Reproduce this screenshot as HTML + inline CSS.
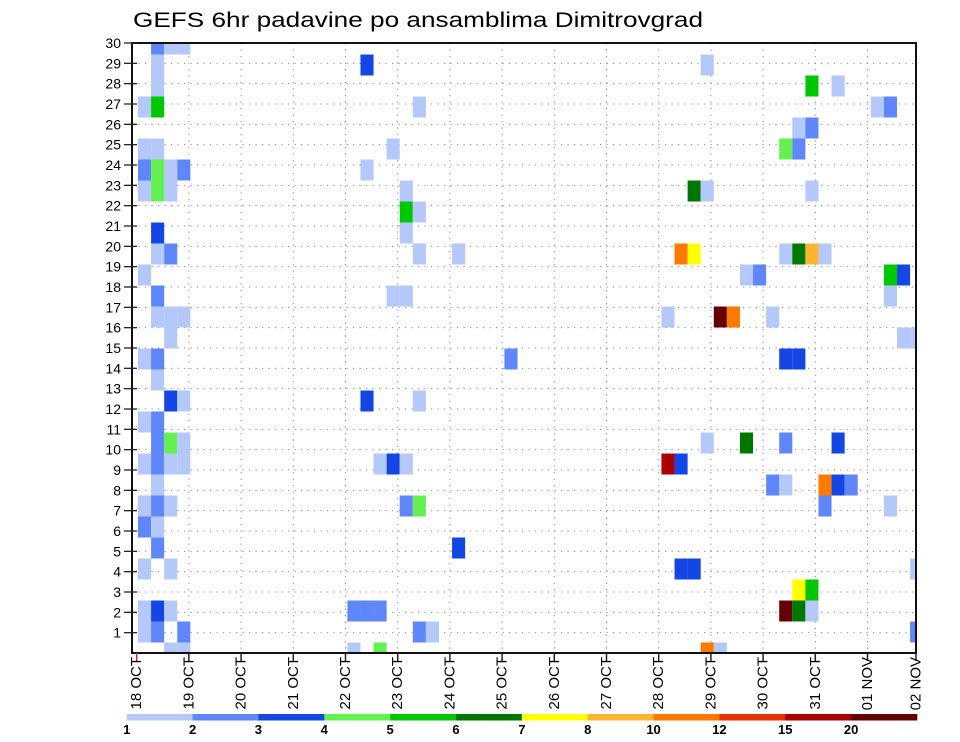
<!DOCTYPE html>
<html>
<head>
<meta charset="utf-8">
<style>
  html, body { margin: 0; padding: 0; background: #ffffff; }
  body { width: 960px; height: 742px; overflow: hidden; }
  svg { display: block; font-family: "Liberation Sans", "DejaVu Sans", sans-serif; }
</style>
</head>
<body>
<svg id="chart" width="960" height="742" viewBox="0 0 960 742" xmlns="http://www.w3.org/2000/svg">
  <rect x="0" y="0" width="960" height="742" fill="#ffffff"/>
  <text x="133" y="27" font-size="21" fill="#000" textLength="570" lengthAdjust="spacingAndGlyphs">GEFS 6hr padavine po ansamblima Dimitrovgrad</text>
  <defs>
    <clipPath id="plotclip"><rect x="132" y="43" width="784" height="610"/></clipPath>
  </defs>
  <g id="grid"></g>
  <g id="cells" clip-path="url(#plotclip)"></g>
  <g id="axes"></g>
  <g id="colorbar"></g>
</svg>
<script>
// ---- data ----
const dayLabels = ["18 OCT","19 OCT","20 OCT","21 OCT","22 OCT","23 OCT","24 OCT","25 OCT","26 OCT","27 OCT","28 OCT","29 OCT","30 OCT","31 OCT","01 NOV","02 NOV"];
const memberTicks = [1,2,3,4,5,6,7,8,9,10,11,12,13,14,15,16,17,18,19,20,21,22,23,24,25,26,27,28,29,30];
const levels = [1,2,3,4,5,6,7,8,10,12,15,20];
const levelColors = ["#b4c8fa","#5f87fa","#1446e6","#64f050","#00c800","#007800","#ffff00","#ffb432","#ff7800","#e63200","#aa0000","#640000"];
// cell data: ensemble member row, 6-hour step index (0 = 18 OCT 00Z), precipitation (mm)
const members = [
 30,30,30,29,28,27,27,25,25,24,24,24,24,23,23,23,21,20,20,19,18,17,17,17,16,15,15,14,13,13,12,12,11,11,11,10,10,10,10,9,8,8,8,7,7,6,5,5,3,3,3,2,2,2,1,1,
 29,27,25,24,23,22,22,21,20,20,18,18,15,13,13,10,10,10,8,8,6,3,3,3,2,2,1,1,
 29,28,28,27,27,26,26,25,25,23,23,23,20,20,20,20,20,20,19,19,19,19,18,17,17,17,17,16,16,15,15,11,11,11,11,10,10,9,9,9,9,9,8,8,5,5,5,4,4,3,3,3,2,1,1
];
const steps = [
 1,2,3,1,1,0,1,0,1,0,1,2,3,0,1,2,1,1,2,0,1,1,2,3,2,0,1,1,2,3,0,1,1,2,3,0,1,2,3,1,0,1,2,0,1,1,0,2,0,1,2,0,1,3,2,3,
 17,21,19,17,20,20,21,20,21,24,19,20,28,17,21,18,19,20,20,21,24,16,17,18,21,22,16,18,
 43,51,53,56,57,50,51,49,50,42,43,51,41,42,49,50,51,52,46,47,57,58,57,40,44,45,48,58,59,49,50,43,46,49,53,40,41,48,49,52,53,54,52,57,41,42,59,50,51,49,50,51,59,43,44
];
const values = [
 2.5,1.5,1.5,1.5,1.5,1.5,5.5,1.5,1.5,2.5,4.5,1.5,2.5,1.5,4.5,1.5,3.5,1.5,2.5,1.5,2.5,1.5,1.5,1.5,1.5,1.5,2.5,1.5,3.5,1.5,1.5,2.5,2.5,4.5,1.5,1.5,2.5,1.5,1.5,1.5,1.5,2.5,1.5,2.5,1.5,2.5,1.5,1.5,1.5,3.5,1.5,1.5,2.5,2.5,1.5,1.5,
 3.5,1.5,1.5,1.5,1.5,5.5,1.5,1.5,1.5,1.5,1.5,1.5,2.5,3.5,1.5,1.5,3.5,1.5,2.5,4.5,3.5,2.5,2.5,2.5,2.5,1.5,1.5,4.5,
 1.5,5.5,1.5,1.5,2.5,1.5,2.5,4.5,2.5,6.5,1.5,1.5,11,7.5,1.5,6.5,9,1.5,1.5,2.5,5.5,3.5,1.5,1.5,25,11,1.5,1.5,1.5,3.5,3.5,1.5,6.5,2.5,3.5,17,3.5,2.5,1.5,11,3.5,2.5,2.5,1.5,3.5,3.5,1.5,7.5,5.5,25,6.5,1.5,2.5,11,1.5
];

// ---- axis functions ----
const PL = 132, PR = 916, PT = 43, PB = 653;
const STEP_W = 13.086, STEP_X0 = 138;
function xStep(c) { return STEP_X0 + c * STEP_W; }
const CELL_H = (PB - PT - 1) / 29;
function yMember(k) { return PT + 1 + (30 - k) * CELL_H; }      // cell center
function yTick(k) { return PB - k * (PB - PT) / 30; }
function xDay(i) { return i === 15 ? PR : 136.7 + i * 52.2; }
function colorFor(v) {
  let idx = 0;
  for (let i = 0; i < levels.length; i++) if (v >= levels[i]) idx = i;
  return levelColors[idx];
}
const NS = "http://www.w3.org/2000/svg";
function mk(tag, attrs, parent) {
  const el = document.createElementNS(NS, tag);
  for (const a in attrs) el.setAttribute(a, attrs[a]);
  parent.appendChild(el);
  return el;
}

// ---- grid ----
const grid = document.getElementById('grid');
memberTicks.forEach(k => {
  if (k >= 30) return;
  const ln = mk('line', {x1: PL, x2: PR, y1: yTick(k), y2: yTick(k), stroke: '#8a8a8a', 'stroke-width': 1, 'stroke-dasharray': '1.2 5.3'}, grid);
  
  
});
dayLabels.forEach((d, i) => {
  if (i === 0 || i === 15) return;
  const ln = mk('line', {x1: xDay(i), x2: xDay(i), y1: PT, y2: PB, stroke: '#8a8a8a', 'stroke-width': 1, 'stroke-dasharray': '1.2 5.3'}, grid);
  
  
});

// ---- cells ----
const cells = document.getElementById('cells');
for (let i = 0; i < values.length; i++) {
  const r = mk('rect', {
    x: xStep(steps[i]).toFixed(2), y: (yMember(members[i]) - CELL_H / 2).toFixed(2),
    width: STEP_W.toFixed(2), height: CELL_H.toFixed(2), fill: colorFor(values[i])
  }, cells);
  
  
}

// ---- axes ----
const axes = document.getElementById('axes');
const frame = mk('rect', {x: PL, y: PT, width: PR - PL, height: PB - PT, fill: 'none', stroke: '#111', 'stroke-width': 2}, axes);


memberTicks.forEach(k => {
  const t = mk('line', {x1: 124, x2: 137, y1: yTick(k), y2: yTick(k), stroke: '#222', 'stroke-width': 1.3}, axes);
  
  
  const lb = mk('text', {x: 121, y: yTick(k) + 5, 'font-size': 14, 'text-anchor': 'end', fill: '#000'}, axes);
  lb.textContent = k;
  
  
});
dayLabels.forEach((d, i) => {
  const x = xDay(i);
  const t = mk('line', {x1: x, x2: x, y1: PB, y2: PB + 8, stroke: i === 0 ? '#c03030' : '#222', 'stroke-width': 1.5}, axes);
  
  
  const lb = mk('text', {x: 0, y: 0, 'font-size': 15, 'text-anchor': 'end', 'dominant-baseline': 'central', fill: '#000', transform: 'translate(' + x + ',657) rotate(-90)'}, axes);
  lb.textContent = d;
  
  
});

// ---- colorbar ----
const cb = document.getElementById('colorbar');
const CB_X0 = 126.7, CB_W = (917 - 126.7) / levels.length;
levels.forEach((lv, i) => {
  const r = mk('rect', {x: CB_X0 + i * CB_W, y: 714, width: CB_W + 0.3, height: 6.5, fill: levelColors[i]}, cb);
  
  
  const t = mk('text', {x: CB_X0 + i * CB_W, y: 734, 'font-size': 13, 'font-weight': 'bold', 'text-anchor': 'middle', fill: '#000'}, cb);
  t.textContent = lv;
  
  
});
</script>
</body>
</html>
